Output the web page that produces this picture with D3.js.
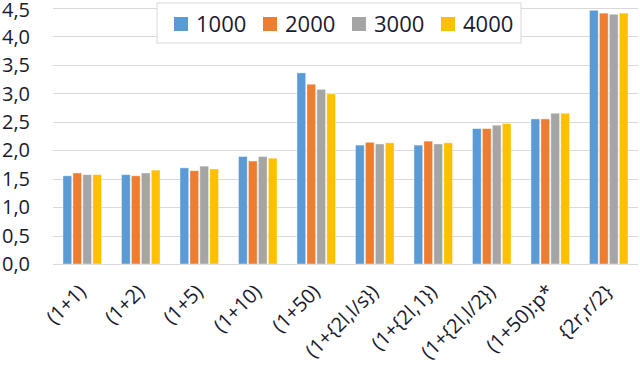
<!DOCTYPE html>
<html>
<head>
<meta charset="utf-8">
<script src="https://cdn.jsdelivr.net/npm/d3@7"></script>
<style>
  body { margin: 0; background: #fff; }
  text { font-family: "Open Sans", "DejaVu Sans", sans-serif; fill: #1a1a2e; }
</style>
</head>
<body>
<main></main>
<script>
// data
const categories = ["(1+1)", "(1+2)", "(1+5)", "(1+10)", "(1+50)", "(1+{2l,l/s})", "(1+{2l,1})", "(1+{2l,l/2})", "(1+50):p*", "{2r,r/2}"];
const seriesNames = ["1000", "2000", "3000", "4000"];
const s1000 = [1.55, 1.57, 1.69, 1.89, 3.36, 2.09, 2.09, 2.38, 2.55, 4.46];
const s2000 = [1.60, 1.55, 1.64, 1.81, 3.16, 2.14, 2.16, 2.38, 2.55, 4.41];
const s3000 = [1.57, 1.60, 1.72, 1.89, 3.07, 2.11, 2.11, 2.44, 2.65, 4.39];
const s4000 = [1.57, 1.65, 1.67, 1.86, 2.99, 2.13, 2.13, 2.47, 2.65, 4.41];
const yTicks = [0, 0.5, 1, 1.5, 2, 2.5, 3, 3.5, 4, 4.5];
const colors = ["#5b9bd5", "#ed7d31", "#a5a5a5", "#ffc000"];

const allSeries = [s1000, s2000, s3000, s4000];

var margin = {top: 8, right: 2, bottom: 106, left: 53},
  width = 640 - margin.left - margin.right,
  height = 370 - margin.top - margin.bottom;

var svg = d3.select("main")
  .append("svg")
  .attr("width", 640)
  .attr("height", 370)
  .append("g")
  .attr("transform", "translate(" + margin.left + "," + margin.top + ")");

var x0 = d3.scaleBand().domain(categories).range([0, width]).paddingInner(0.3).paddingOuter(0.15);
var x1 = d3.scaleBand().domain(seriesNames).range([0, x0.bandwidth()]).padding(0.12);
var y = d3.scaleLinear().domain([0, 4.5]).range([height, 0]);

//gridlines
svg.append("g")
  .selectAll("line")
  .data(yTicks)
  .enter()
  .append("line")
  .attr("x1", 0)
  .attr("x2", width)
  .attr("y1", d => Math.round(y(d)) + 0.5)
  .attr("y2", d => Math.round(y(d)) + 0.5)
  .style("stroke", "#d9d9d9")
  .style("stroke-width", 1);

//y labels (top one nudged down so it is not clipped)
svg.append("g")
  .selectAll("text")
  .data(yTicks)
  .enter()
  .append("text")
  .attr("x", -23)
  .attr("y", d => Math.max(y(d), 2))
  .attr("dy", "0.36em")
  .attr("text-anchor", "end")
  .attr("font-size", "20px")
  .text(d => d3.format(".1f")(d).replace(".", ","));

//bars
var rows = categories.map((c, i) => ({cat: c, vals: allSeries.map((s, j) => ({name: seriesNames[j], value: s[i], color: colors[j]}))}));

svg.append("g")
  .selectAll("g")
  .data(rows)
  .enter()
  .append("g")
  .attr("transform", d => "translate(" + x0(d.cat) + ",0)")
  .selectAll("rect")
  .data(d => d.vals)
  .enter()
  .append("rect")
  .attr("x", d => x1(d.name))
  .attr("y", d => y(d.value))
  .attr("width", x1.bandwidth())
  .attr("height", d => height - y(d.value))
  .style("fill", d => d.color)
  .style("stroke", "#fff")
  .style("stroke-opacity", 0.5)
  .style("stroke-width", 0.8);

//x labels
svg.append("g")
  .selectAll("text")
  .data(categories)
  .enter()
  .append("text")
  .attr("text-anchor", "end")
  .attr("font-size", "20px")
  .attr("transform", d => "translate(" + (x0(d) + x0.bandwidth() / 2 + 5) + "," + (height + 29) + ") rotate(-45)")
  .text(d => d);

//legend
var legend = svg.append("g").attr("transform", "translate(" + (157 - margin.left) + "," + (3 - margin.top) + ")");
legend.append("rect")
  .attr("width", 364)
  .attr("height", 40)
  .style("fill", "#fff")
  .style("stroke", "#d9d9d9");

var items = legend.selectAll(".legend-item")
  .data(seriesNames)
  .enter()
  .append("g")
  .attr("class", "legend-item")
  .attr("transform", (d, i) => "translate(" + (17 + i * 89) + ",14)");
items.append("rect")
  .attr("width", 14)
  .attr("height", 14)
  .style("fill", (d, i) => colors[i]);
items.append("text")
  .attr("x", 22)
  .attr("y", 7)
  .attr("dy", "0.36em")
  .attr("font-size", "22px")
  .text(d => d);
</script>
</body>
</html>
